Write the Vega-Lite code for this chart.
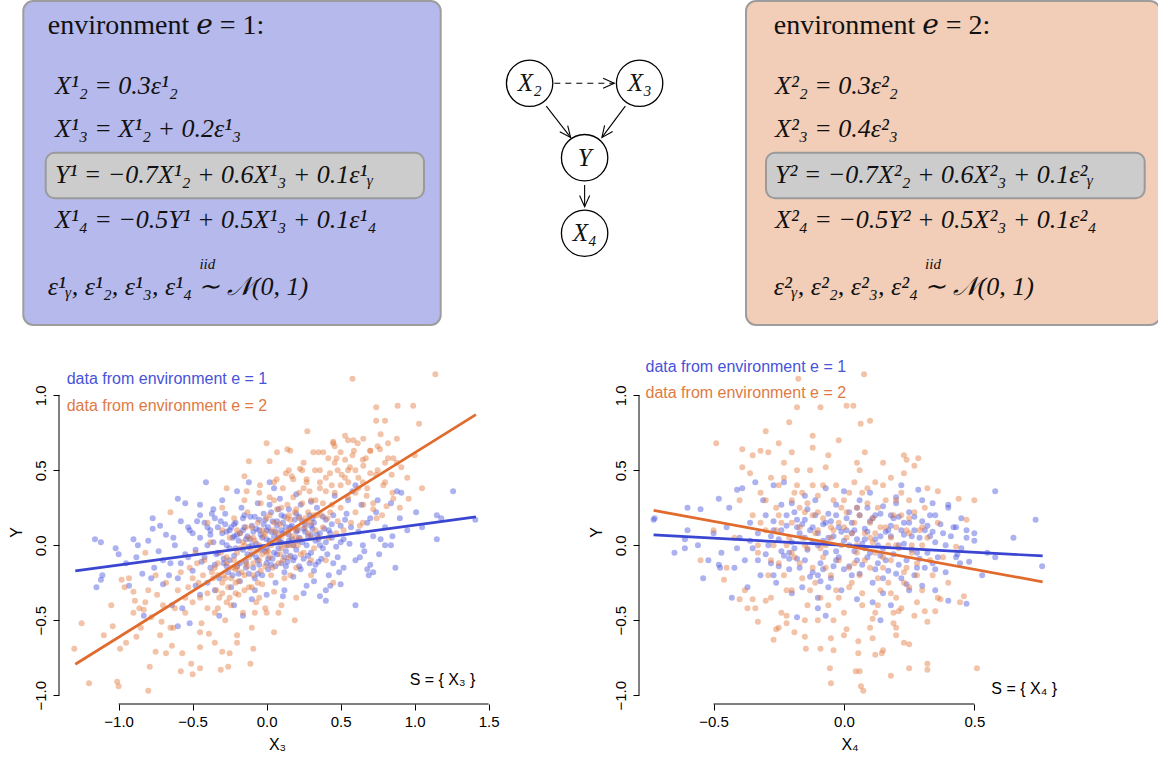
{
"$schema": "https://vega.github.io/schema/vega-lite/v6.json",
"padding": {"left": 8, "top": 0, "right": 0, "bottom": 0},
"background": "white",
"config": {
  "view": {"stroke": null},
  "font": "Liberation Sans",
  "axis": {"grid": false, "domain": false, "tickColor": "#000", "tickSize": 6, "tickWidth": 1, "labelColor": "#000", "labelFont": "Liberation Sans", "labelFontSize": 15, "titleFont": "Liberation Sans", "titleFontSize": 16, "titleFontWeight": "normal", "titleColor": "#000"}
},
"datasets": {
  "p1b": [
{"x":-1.16,"y":0.04},{"x":-1.12,"y":0.02},{"x":-1.15,"y":-0.28},{"x":-1.12,"y":-0.23},{"x":-1.11,"y":-0.2},{"x":-1.02,"y":-0.02},{"x":-0.9,"y":0.04},{"x":-0.87,"y":0.0},{"x":-0.93,"y":-0.27},{"x":-0.83,"y":-0.47},{"x":-0.77,"y":0.18},{"x":-0.77,"y":0.11},{"x":-0.72,"y":0.13},{"x":-0.6,"y":0.31},{"x":-0.55,"y":0.28},{"x":-0.41,"y":0.42},{"x":-0.45,"y":0.27},{"x":-0.36,"y":0.24},{"x":-0.12,"y":0.42},{"x":0.02,"y":0.42},{"x":1.26,"y":0.36},{"x":1.15,"y":0.2},{"x":1.18,"y":0.18},{"x":1.41,"y":0.17},{"x":1.15,"y":0.04},{"x":1.01,"y":0.22},{"x":0.87,"y":-0.15},{"x":0.88,"y":0.36},{"x":0.91,"y":0.35},{"x":0.84,"y":0.28},{"x":0.77,"y":0.04},{"x":0.8,"y":0.0},{"x":0.84,"y":0.0},{"x":0.72,"y":-0.18},{"x":0.69,"y":-0.2},{"x":0.68,"y":-0.16},{"x":0.6,"y":-0.4},{"x":0.43,"y":-0.27},{"x":0.4,"y":-0.37},{"x":0.36,"y":-0.34},{"x":0.11,"y":-0.34},{"x":-0.16,"y":-0.47},{"x":-0.22,"y":-0.4},{"x":-0.32,"y":-0.47},{"x":-0.52,"y":-0.52},{"x":-0.6,"y":-0.54},{"x":-0.57,"y":-0.42},{"x":-0.64,"y":-0.4},{"x":-0.45,"y":-0.33},
{"x":-0.45,"y":0.05},{"x":-0.42,"y":-0.08},{"x":-0.4,"y":0.12},{"x":-0.38,"y":-0.15},{"x":-0.36,"y":0.02},{"x":-0.35,"y":0.18},{"x":-0.33,"y":-0.05},{"x":-0.32,"y":-0.22},{"x":-0.3,"y":0.08},{"x":-0.29,"y":-0.12},{"x":-0.28,"y":0.21},{"x":-0.27,"y":0.0},{"x":-0.26,"y":-0.18},{"x":-0.25,"y":0.1},{"x":-0.24,"y":-0.28},{"x":-0.23,"y":0.05},{"x":-0.22,"y":-0.07},{"x":-0.21,"y":0.15},{"x":-0.2,"y":-0.14},{"x":-0.19,"y":0.03},{"x":-0.18,"y":-0.24},{"x":-0.17,"y":0.25},{"x":-0.16,"y":-0.03},{"x":-0.15,"y":0.12},{"x":-0.14,"y":-0.11},{"x":-0.13,"y":0.06},{"x":-0.12,"y":-0.19},{"x":-0.11,"y":0.19},{"x":-0.1,"y":-0.06},{"x":-0.09,"y":0.09},{"x":-0.08,"y":-0.3},{"x":-0.07,"y":0.01},{"x":-0.06,"y":0.28},{"x":-0.05,"y":-0.13},{"x":-0.04,"y":0.07},{"x":-0.03,"y":-0.2},{"x":-0.02,"y":0.14},{"x":-0.01,"y":-0.04},{"x":0.0,"y":0.1},{"x":0.01,"y":-0.16},{"x":0.02,"y":0.03},{"x":0.03,"y":0.22},{"x":0.04,"y":-0.09},{"x":0.05,"y":0.06},{"x":0.06,"y":-0.25},{"x":0.07,"y":0.16},{"x":0.08,"y":-0.02},{"x":0.09,"y":0.31},{"x":0.1,"y":-0.12},{"x":0.11,"y":0.08},{"x":0.12,"y":-0.18},{"x":0.13,"y":0.12},{"x":0.14,"y":0.0},{"x":0.15,"y":0.24},{"x":0.16,"y":-0.07},{"x":0.17,"y":0.04},{"x":0.18,"y":-0.21},{"x":0.19,"y":0.17},{"x":0.2,"y":-0.03},{"x":0.21,"y":0.1},{"x":0.22,"y":-0.14},{"x":0.23,"y":0.27},{"x":0.24,"y":0.02},{"x":0.25,"y":-0.09},{"x":0.26,"y":0.14},{"x":0.27,"y":-0.27},{"x":0.28,"y":0.06},{"x":0.29,"y":0.2},{"x":0.3,"y":-0.05},{"x":0.31,"y":0.11},{"x":0.32,"y":-0.17},{"x":0.33,"y":0.03},{"x":0.34,"y":0.25},{"x":0.35,"y":-0.11},{"x":0.36,"y":0.08},{"x":0.38,"y":-0.02},{"x":0.4,"y":0.17},{"x":0.42,"y":-0.2},{"x":0.44,"y":0.05},{"x":0.46,"y":0.33},{"x":0.48,"y":-0.08},{"x":0.5,"y":0.13},{"x":0.52,"y":-0.15},{"x":0.54,"y":0.21},{"x":0.56,"y":0.01},{"x":0.58,"y":0.36},{"x":0.6,"y":-0.1},{"x":0.62,"y":0.09},{"x":0.64,"y":0.27},{"x":0.66,"y":-0.04},{"x":0.68,"y":0.15},{"x":0.7,"y":-0.13},{"x":0.72,"y":0.06},{"x":0.74,"y":0.22},{"x":0.76,"y":-0.06},
{"x":-0.5,"y":-0.17},{"x":-0.52,"y":0.1},{"x":-0.55,"y":-0.06},{"x":-0.58,"y":0.16},{"x":-0.6,"y":-0.22},{"x":-0.62,"y":0.0},{"x":-0.65,"y":-0.12},{"x":-0.68,"y":0.07},{"x":-0.7,"y":-0.26},{"x":-0.73,"y":-0.04},{"x":-0.76,"y":-0.15},{"x":-0.8,"y":0.03},{"x":-0.84,"y":-0.19},{"x":-0.88,"y":-0.08},{"x":-0.95,"y":-0.12},{"x":-1.0,"y":-0.06},
{"x":-0.35,"y":-0.3},{"x":-0.3,"y":0.3},{"x":-0.2,"y":0.36},{"x":-0.1,"y":-0.36},{"x":0.0,"y":-0.33},{"x":0.05,"y":0.38},{"x":0.12,"y":-0.3},{"x":0.2,"y":0.34},{"x":0.25,"y":-0.32},{"x":0.3,"y":0.29},{"x":0.4,"y":-0.3},{"x":0.45,"y":0.2},{"x":0.5,"y":-0.26},{"x":0.55,"y":0.3},{"x":0.6,"y":0.4},{"x":-0.15,"y":0.2},{"x":-0.05,"y":0.17},{"x":0.05,"y":-0.05},{"x":0.15,"y":0.07},{"x":0.1,"y":0.2},{"x":-0.25,"y":-0.02},{"x":-0.1,"y":0.0},{"x":0.0,"y":-0.02},{"x":0.1,"y":0.02},{"x":0.2,"y":0.09},{"x":0.3,"y":0.13},{"x":0.4,"y":0.02},{"x":-0.4,"y":-0.25},{"x":-0.45,"y":0.2},{"x":0.65,"y":0.0},{"x":0.8,"y":0.12},{"x":0.85,"y":0.06},{"x":0.9,"y":0.18},{"x":0.95,"y":0.1},{"x":1.05,"y":0.12},{"x":0.75,"y":0.3},{"x":-0.18,"y":0.08},{"x":-0.08,"y":-0.22},{"x":0.02,"y":0.27},{"x":0.12,"y":-0.08},{"x":0.22,"y":0.19},{"x":0.32,"y":-0.24},{"x":0.42,"y":0.1},{"x":0.52,"y":0.04},{"x":-0.28,"y":0.14},{"x":-0.38,"y":0.07},{"x":-0.48,"y":-0.03},
{"x":-0.78,"y":-0.22},{"x":-0.7,"y":-0.1},{"x":-0.66,"y":-0.2},{"x":-0.63,"y":0.05},{"x":-0.58,"y":-0.12},{"x":-0.53,"y":0.12},{"x":-0.5,"y":0.08},{"x":-0.48,"y":-0.27},
{"x":-0.38,"y":0.1},{"x":-0.34,"y":-0.06},{"x":-0.31,"y":0.16},{"x":-0.27,"y":-0.14},{"x":-0.24,"y":0.12},{"x":-0.21,"y":-0.02},{"x":-0.19,"y":-0.19},{"x":-0.16,"y":0.1},{"x":-0.13,"y":-0.06},{"x":-0.11,"y":0.04},{"x":-0.08,"y":0.19},{"x":-0.06,"y":-0.1},{"x":-0.03,"y":0.05},{"x":-0.01,"y":0.17},{"x":0.01,"y":-0.09},{"x":0.03,"y":0.09},{"x":0.06,"y":-0.14},{"x":0.08,"y":0.05},{"x":0.11,"y":0.15},{"x":0.13,"y":-0.04},{"x":0.16,"y":0.12},{"x":0.18,"y":-0.1},{"x":0.21,"y":0.03},{"x":0.23,"y":-0.16},{"x":0.26,"y":0.09},{"x":0.28,"y":-0.07},{"x":0.31,"y":0.18},{"x":0.33,"y":-0.13},{"x":0.36,"y":0.0},{"x":0.39,"y":0.11},{"x":0.41,"y":-0.06},{"x":0.44,"y":0.14},{"x":0.47,"y":-0.01},{"x":0.49,"y":-0.18},{"x":-0.29,"y":-0.09},{"x":-0.22,"y":0.06},{"x":-0.14,"y":-0.15},{"x":-0.07,"y":0.11},{"x":0.0,"y":-0.12},{"x":0.07,"y":0.13},{"x":0.14,"y":-0.11},{"x":0.24,"y":0.16},{"x":0.34,"y":0.07},{"x":-0.44,"y":-0.11},{"x":-0.37,"y":0.21},{"x":0.57,"y":0.12},{"x":0.63,"y":-0.08},{"x":0.7,"y":0.18},{"x":-0.53,"y":-0.08},{"x":-0.47,"y":0.16},
{"x":-0.3,"y":0.02},{"x":-0.27,"y":0.09},{"x":-0.25,"y":-0.1},{"x":-0.22,"y":0.14},{"x":-0.2,"y":0.07},{"x":-0.18,"y":-0.12},{"x":-0.16,"y":0.18},{"x":-0.14,"y":0.04},{"x":-0.12,"y":-0.01},{"x":-0.1,"y":0.13},{"x":-0.09,"y":-0.15},{"x":-0.07,"y":-0.08},{"x":-0.05,"y":0.1},{"x":-0.04,"y":-0.03},{"x":-0.02,"y":0.21},{"x":0.0,"y":0.04},{"x":0.01,"y":0.12},{"x":0.03,"y":-0.13},{"x":0.04,"y":0.16},{"x":0.06,"y":0.09},{"x":0.07,"y":-0.06},{"x":0.09,"y":0.02},{"x":0.1,"y":0.1},{"x":0.12,"y":0.19},{"x":0.13,"y":-0.14},{"x":0.15,"y":0.03},{"x":0.17,"y":0.13},{"x":0.19,"y":-0.08},{"x":0.2,"y":0.21},{"x":0.22,"y":0.05},{"x":0.25,"y":0.11},{"x":0.27,"y":0.0},{"x":0.29,"y":-0.12},{"x":0.3,"y":0.07},{"x":0.32,"y":0.15},{"x":0.35,"y":0.04},{"x":0.37,"y":-0.09},{"x":0.38,"y":0.19},{"x":0.43,"y":0.08},{"x":0.45,"y":-0.12},{"x":-0.33,"y":0.12},{"x":-0.35,"y":-0.13},{"x":-0.4,"y":0.0},{"x":-0.42,"y":0.15},{"x":0.5,"y":0.02},{"x":0.53,"y":0.17},{"x":-0.23,"y":-0.2},{"x":-0.06,"y":-0.19},{"x":0.08,"y":0.24},{"x":0.18,"y":0.0}
  ],
  "p1o": [
{"x":0.58,"y":1.11},{"x":1.14,"y":1.14},{"x":0.74,"y":0.92},{"x":0.885,"y":0.93},{"x":0.99,"y":0.93},{"x":1.03,"y":0.81},{"x":0.74,"y":0.83},{"x":0.8,"y":0.83},{"x":0.275,"y":0.76},{"x":0.53,"y":0.73},{"x":0.77,"y":0.74},{"x":0.88,"y":0.71},{"x":0.96,"y":0.31},{"x":0.91,"y":0.52},{"x":0.0,"y":0.68},{"x":0.07,"y":0.62},{"x":0.14,"y":0.64},{"x":0.16,"y":0.63},{"x":-0.12,"y":0.56},{"x":0.02,"y":0.56},{"x":-0.15,"y":0.46},{"x":-0.27,"y":0.38},{"x":-0.65,"y":0.22},{"x":-0.82,"y":-0.05},{"x":-0.98,"y":-0.23},{"x":-0.9,"y":-0.31},{"x":-1.3,"y":-0.69},{"x":-1.25,"y":-0.52},{"x":-1.2,"y":-0.92},{"x":-1.01,"y":-0.91},{"x":-1.0,"y":-0.94},{"x":-0.8,"y":-0.97},{"x":-1.04,"y":-0.54},{"x":-0.99,"y":-0.69},{"x":-0.88,"y":-0.61},{"x":-0.79,"y":-0.81},{"x":-0.75,"y":-0.71},{"x":-0.58,"y":-0.84},{"x":-0.5,"y":-0.86},{"x":-0.45,"y":-0.82},{"x":-0.31,"y":-0.83},{"x":-0.26,"y":-0.81},{"x":-0.11,"y":-0.79},{"x":-0.09,"y":-0.69},{"x":-0.3,"y":-0.71},{"x":-0.2,"y":-0.65},{"x":0.19,"y":-0.5},{"x":0.08,"y":-0.45},{"x":-0.01,"y":-0.42},{"x":-0.45,"y":-0.58},{"x":-0.39,"y":-0.59},{"x":-0.68,"y":-0.72},{"x":-0.64,"y":-0.67},{"x":-0.57,"y":-0.72},{"x":-0.51,"y":-0.79},{"x":-0.71,"y":-0.51},{"x":-0.63,"y":-0.55},{"x":-0.83,"y":-0.43},{"x":-0.86,"y":-0.42},{"x":-0.96,"y":-0.28},{"x":-0.93,"y":-0.22},{"x":-0.89,"y":-0.37},{"x":-0.82,"y":-0.38},{"x":-0.74,"y":-0.33},
{"x":0.315,"y":0.62},{"x":0.383,"y":0.62},{"x":0.45,"y":0.69},{"x":0.586,"y":0.7},{"x":0.615,"y":0.68},{"x":0.653,"y":0.71},{"x":0.53,"y":0.57},{"x":0.59,"y":0.63},{"x":0.67,"y":0.58},{"x":0.7,"y":0.63},{"x":0.766,"y":0.64},{"x":0.82,"y":0.58},{"x":0.856,"y":0.58},{"x":0.563,"y":0.52},{"x":0.653,"y":0.53},{"x":0.739,"y":0.47},{"x":0.788,"y":0.4},{"x":0.845,"y":0.47},{"x":0.46,"y":0.66},{"x":0.417,"y":0.58},{"x":0.473,"y":0.58},{"x":0.327,"y":0.5},{"x":0.428,"y":0.48},{"x":0.507,"y":0.47},{"x":0.552,"y":0.42},{"x":0.619,"y":0.38},{"x":0.676,"y":0.33},{"x":0.72,"y":0.24},{"x":0.81,"y":0.26},{"x":0.856,"y":0.31},{"x":0.653,"y":0.27},{"x":0.225,"y":0.51},{"x":0.18,"y":0.44},{"x":0.27,"y":0.44},{"x":0.13,"y":0.48},{"x":0.068,"y":0.44},{"x":-0.045,"y":0.4},{"x":-0.135,"y":0.36},{"x":0.36,"y":0.38},{"x":0.743,"y":0.18},{"x":0.63,"y":0.13},
{"x":-0.6,"y":-0.3},{"x":-0.55,"y":-0.45},{"x":-0.52,"y":-0.15},{"x":-0.5,"y":-0.38},{"x":-0.48,"y":-0.05},{"x":-0.46,"y":-0.25},{"x":-0.44,"y":-0.52},{"x":-0.42,"y":-0.1},{"x":-0.4,"y":-0.32},{"x":-0.38,"y":0.02},{"x":-0.36,"y":-0.22},{"x":-0.35,"y":-0.45},{"x":-0.33,"y":-0.12},{"x":-0.32,"y":-0.35},{"x":-0.3,"y":0.1},{"x":-0.29,"y":-0.2},{"x":-0.28,"y":-0.5},{"x":-0.27,"y":-0.08},{"x":-0.26,"y":-0.28},{"x":-0.25,"y":0.05},{"x":-0.24,"y":-0.4},{"x":-0.23,"y":-0.15},{"x":-0.22,"y":0.18},{"x":-0.21,"y":-0.25},{"x":-0.2,"y":-0.05},{"x":-0.19,"y":-0.33},{"x":-0.18,"y":0.08},{"x":-0.17,"y":-0.18},{"x":-0.16,"y":-0.45},{"x":-0.15,"y":0.0},{"x":-0.14,"y":-0.12},{"x":-0.13,"y":0.22},{"x":-0.12,"y":-0.28},{"x":-0.11,"y":-0.02},{"x":-0.1,"y":0.12},{"x":-0.09,"y":-0.2},{"x":-0.08,"y":0.03},{"x":-0.07,"y":-0.38},{"x":-0.06,"y":0.15},{"x":-0.05,"y":-0.1},{"x":-0.04,"y":0.28},{"x":-0.03,"y":-0.26},{"x":-0.02,"y":0.06},{"x":-0.01,"y":-0.14},{"x":0.0,"y":0.18},{"x":0.01,"y":-0.04},{"x":0.02,"y":0.32},{"x":0.03,"y":-0.2},{"x":0.04,"y":0.1},{"x":0.05,"y":-0.31},{"x":0.06,"y":0.02},{"x":0.07,"y":0.24},{"x":0.08,"y":-0.12},{"x":0.09,"y":0.14},{"x":0.1,"y":-0.02},{"x":0.11,"y":0.38},{"x":0.12,"y":-0.22},{"x":0.13,"y":0.08},{"x":0.14,"y":0.27},{"x":0.15,"y":-0.08},{"x":0.16,"y":0.17},{"x":0.17,"y":0.46},{"x":0.18,"y":0.0},{"x":0.19,"y":0.22},{"x":0.2,"y":-0.15},{"x":0.21,"y":0.12},{"x":0.22,"y":0.35},{"x":0.23,"y":0.04},{"x":0.24,"y":0.28},{"x":0.25,"y":-0.05},{"x":0.26,"y":0.18},{"x":0.27,"y":0.42},{"x":0.28,"y":0.08},{"x":0.3,"y":0.3},{"x":0.32,"y":-0.02},{"x":0.34,"y":0.2},{"x":0.36,"y":0.5},{"x":0.38,"y":0.12},{"x":0.4,"y":0.36},{"x":0.42,"y":0.05},{"x":0.44,"y":0.27},{"x":0.46,"y":0.55},{"x":0.48,"y":0.16},{"x":0.5,"y":0.4},{"x":0.52,"y":0.1},{"x":0.55,"y":0.32},{"x":0.58,"y":0.6},{"x":0.6,"y":0.22},{"x":0.62,"y":0.45},{"x":0.65,"y":0.15},{"x":0.68,"y":0.38},{"x":0.7,"y":0.63},{"x":0.72,"y":0.28},{"x":0.75,"y":0.5},{"x":0.78,"y":0.2},{"x":0.8,"y":0.42},{"x":0.82,"y":0.68},{"x":0.85,"y":0.35},{"x":0.88,"y":0.55},{"x":0.9,"y":0.25},{"x":0.95,"y":0.45},{"x":1.0,"y":0.6},{"x":1.05,"y":0.38},
{"x":-0.65,"y":-0.55},{"x":-0.68,"y":-0.25},{"x":-0.7,"y":-0.4},{"x":-0.72,"y":-0.6},{"x":-0.75,"y":-0.2},{"x":-0.78,"y":-0.48},{"x":-0.8,"y":-0.3},{"x":-0.85,"y":-0.55},{"x":-0.9,"y":-0.45},{"x":-0.95,"y":-0.65},{"x":-1.05,"y":-0.4},{"x":-1.1,"y":-0.6},
{"x":0.35,"y":0.62},{"x":0.45,"y":0.68},{"x":0.55,"y":0.7},{"x":0.5,"y":0.62},{"x":0.65,"y":0.57},{"x":0.75,"y":0.66},{"x":0.25,"y":0.55},{"x":0.15,"y":0.5},{"x":0.05,"y":0.42},{"x":-0.05,"y":0.35},{"x":-0.15,"y":0.3},{"x":-0.3,"y":0.25},{"x":-0.4,"y":0.15},{"x":0.3,"y":-0.2},{"x":0.4,"y":-0.1},{"x":0.45,"y":-0.25},{"x":0.2,"y":-0.35},{"x":0.1,"y":-0.4},{"x":0.0,"y":-0.45},{"x":-0.1,"y":-0.55},{"x":-0.2,"y":-0.6},{"x":-0.35,"y":-0.65},{"x":-0.45,"y":-0.68},{"x":-0.25,"y":-0.72},{"x":0.05,"y":-0.58},{"x":0.15,"y":0.0},{"x":-0.05,"y":0.0},{"x":0.1,"y":0.06},{"x":-0.12,"y":-0.08},{"x":0.2,"y":0.1},{"x":-0.2,"y":-0.15},{"x":0.3,"y":0.15},{"x":-0.3,"y":-0.25},
{"x":-0.37,"y":-0.18},{"x":-0.34,"y":-0.3},{"x":-0.31,"y":-0.05},{"x":-0.28,"y":-0.22},{"x":-0.25,"y":-0.35},{"x":-0.22,"y":-0.1},{"x":-0.19,"y":-0.24},{"x":-0.16,"y":0.02},{"x":-0.13,"y":-0.14},{"x":-0.1,"y":-0.28},{"x":-0.07,"y":-0.04},{"x":-0.04,"y":-0.17},{"x":-0.01,"y":0.08},{"x":0.02,"y":-0.08},{"x":0.05,"y":0.15},{"x":0.08,"y":0.02},{"x":0.11,"y":-0.1},{"x":0.14,"y":0.18},{"x":0.17,"y":0.06},{"x":0.2,"y":0.24},{"x":0.23,"y":-0.06},{"x":0.26,"y":0.12},{"x":0.29,"y":0.36},{"x":0.32,"y":0.2},{"x":0.35,"y":0.05},{"x":0.38,"y":0.28},{"x":0.41,"y":0.18},{"x":0.44,"y":0.4},{"x":0.47,"y":0.08},{"x":0.5,"y":0.25},{"x":-0.33,"y":-0.2},{"x":-0.27,"y":-0.38},{"x":-0.21,"y":-0.16},{"x":-0.15,"y":-0.3},{"x":-0.09,"y":0.05},{"x":-0.03,"y":-0.06},{"x":0.03,"y":0.0},{"x":0.09,"y":-0.06},{"x":0.15,"y":0.1},{"x":0.21,"y":0.0},{"x":0.27,"y":0.16},{"x":0.33,"y":0.1},{"x":-0.43,"y":-0.2},{"x":-0.47,"y":-0.12},{"x":-0.53,"y":-0.28},{"x":-0.58,"y":-0.18},{"x":0.53,"y":0.45},{"x":0.57,"y":0.15},{"x":0.6,"y":0.35},
{"x":-0.35,"y":-0.15},{"x":-0.3,"y":-0.32},{"x":-0.27,"y":-0.12},{"x":-0.24,"y":-0.22},{"x":-0.21,"y":-0.32},{"x":-0.18,"y":-0.02},{"x":-0.15,"y":-0.2},{"x":-0.12,"y":0.05},{"x":-0.09,"y":-0.12},{"x":-0.06,"y":-0.25},{"x":-0.03,"y":0.1},{"x":0.0,"y":-0.05},{"x":0.02,"y":0.2},{"x":0.04,"y":-0.15},{"x":0.07,"y":0.08},{"x":0.1,"y":0.25},{"x":0.12,"y":0.0},{"x":0.15,"y":0.2},{"x":0.18,"y":0.32},{"x":0.2,"y":0.05},{"x":0.22,"y":0.18},{"x":0.25,"y":0.38},{"x":0.28,"y":0.22},{"x":0.3,"y":0.05},{"x":0.33,"y":0.3},{"x":0.37,"y":0.2},{"x":0.4,"y":0.45},{"x":0.43,"y":0.22},{"x":0.46,"y":0.35},{"x":0.48,"y":0.5},{"x":-0.4,"y":-0.42},{"x":-0.45,"y":-0.35},{"x":-0.5,"y":-0.22},{"x":-0.55,"y":-0.35},{"x":0.55,"y":0.5},{"x":0.6,"y":0.5},{"x":0.65,"y":0.42},{"x":0.7,"y":0.48},{"x":-0.08,"y":-0.45},{"x":0.05,"y":0.3},{"x":-0.2,"y":0.1},{"x":0.3,"y":-0.1},{"x":-0.14,"y":0.12},{"x":0.16,"y":-0.2},{"x":-0.33,"y":-0.42},{"x":0.36,"y":0.42},{"x":-0.62,"y":-0.42},{"x":0.8,"y":0.55},{"x":-0.05,"y":-0.35},{"x":0.24,"y":0.5}
  ],
  "p2b": [
{"x":-0.73,"y":0.17},{"x":-0.726,"y":0.18},{"x":-0.6,"y":0.25},{"x":-0.55,"y":0.24},{"x":-0.61,"y":0.04},{"x":-0.61,"y":-0.02},{"x":-0.54,"y":-0.22},{"x":-0.48,"y":-0.13},{"x":-0.475,"y":-0.15},{"x":-0.48,"y":0.31},{"x":-0.43,"y":-0.35},{"x":-0.41,"y":0.37},{"x":-0.39,"y":0.38},{"x":-0.34,"y":0.42},{"x":-0.27,"y":0.4},{"x":-0.23,"y":0.42},{"x":-0.18,"y":-0.48},{"x":-0.1,"y":-0.42},{"x":-0.07,"y":-0.47},{"x":-0.07,"y":0.38},{"x":0.11,"y":-0.38},{"x":0.14,"y":-0.5},{"x":0.18,"y":-0.4},{"x":0.22,"y":0.4},{"x":0.285,"y":0.37},{"x":0.34,"y":0.28},{"x":0.35,"y":0.2},{"x":0.4,"y":0.27},{"x":0.43,"y":0.12},{"x":0.435,"y":-0.06},{"x":0.445,"y":-0.12},{"x":0.58,"y":0.36},{"x":0.65,"y":0.05},{"x":0.58,"y":-0.08},{"x":0.735,"y":0.17},{"x":0.76,"y":-0.14},{"x":0.53,"y":-0.2},{"x":0.47,"y":-0.39},{"x":0.4,"y":-0.37},{"x":0.5,"y":0.03},{"x":0.47,"y":0.05},
{"x":-0.4,"y":0.05},{"x":-0.38,"y":-0.1},{"x":-0.36,"y":0.15},{"x":-0.35,"y":-0.02},{"x":-0.33,"y":0.08},{"x":-0.32,"y":-0.2},{"x":-0.3,"y":0.2},{"x":-0.29,"y":0.0},{"x":-0.28,"y":-0.12},{"x":-0.27,"y":0.1},{"x":-0.26,"y":-0.25},{"x":-0.25,"y":0.04},{"x":-0.24,"y":0.27},{"x":-0.23,"y":-0.07},{"x":-0.22,"y":0.13},{"x":-0.21,"y":-0.16},{"x":-0.2,"y":0.02},{"x":-0.19,"y":0.22},{"x":-0.18,"y":-0.09},{"x":-0.17,"y":0.08},{"x":-0.16,"y":-0.28},{"x":-0.15,"y":0.17},{"x":-0.14,"y":-0.03},{"x":-0.13,"y":0.1},{"x":-0.12,"y":-0.18},{"x":-0.11,"y":0.3},{"x":-0.1,"y":0.0},{"x":-0.09,"y":-0.12},{"x":-0.08,"y":0.14},{"x":-0.07,"y":-0.05},{"x":-0.06,"y":0.21},{"x":-0.05,"y":-0.22},{"x":-0.04,"y":0.06},{"x":-0.03,"y":-0.1},{"x":-0.02,"y":0.12},{"x":-0.01,"y":-0.3},{"x":0.0,"y":0.03},{"x":0.01,"y":0.18},{"x":0.02,"y":-0.14},{"x":0.03,"y":0.08},{"x":0.04,"y":-0.04},{"x":0.05,"y":0.25},{"x":0.06,"y":-0.19},{"x":0.07,"y":0.01},{"x":0.08,"y":0.11},{"x":0.09,"y":-0.08},{"x":0.1,"y":0.16},{"x":0.11,"y":-0.25},{"x":0.12,"y":0.04},{"x":0.13,"y":-0.12},{"x":0.14,"y":0.21},{"x":0.15,"y":-0.02},{"x":0.16,"y":0.09},{"x":0.17,"y":-0.17},{"x":0.18,"y":0.13},{"x":0.19,"y":-0.06},{"x":0.2,"y":0.28},{"x":0.21,"y":0.0},{"x":0.22,"y":-0.22},{"x":0.23,"y":0.07},{"x":0.24,"y":-0.1},{"x":0.25,"y":0.15},{"x":0.26,"y":-0.03},{"x":0.27,"y":0.19},{"x":0.28,"y":-0.15},{"x":0.29,"y":0.05},{"x":0.3,"y":-0.27},{"x":0.31,"y":0.1},{"x":0.32,"y":-0.05},{"x":0.33,"y":0.2},{"x":0.34,"y":-0.12},{"x":0.35,"y":0.02},{"x":0.37,"y":0.14},{"x":0.39,"y":-0.18},{"x":0.41,"y":0.06},{"x":0.43,"y":-0.08},{"x":0.45,"y":0.18},{"x":0.48,"y":-0.11},{"x":0.5,"y":0.08},{"x":0.55,"y":-0.05},
{"x":-0.42,"y":-0.15},{"x":-0.45,"y":0.12},{"x":-0.47,"y":-0.05},{"x":-0.5,"y":0.08},{"x":-0.52,"y":-0.1},{"x":-0.56,"y":0.0},{"x":-0.6,"y":0.1},{"x":-0.65,"y":-0.05},{"x":-0.44,"y":0.25},{"x":-0.37,"y":-0.28},{"x":-0.31,"y":0.3},{"x":-0.2,"y":-0.32},{"x":-0.15,"y":0.33},{"x":-0.1,"y":-0.35},{"x":0.0,"y":0.36},{"x":0.05,"y":-0.36},{"x":0.1,"y":0.35},{"x":0.15,"y":-0.32},{"x":0.2,"y":0.32},{"x":0.25,"y":-0.3},{"x":0.3,"y":0.3},{"x":0.35,"y":-0.3},{"x":0.4,"y":0.25},{"x":-0.06,"y":0.05},{"x":0.04,"y":0.1},{"x":-0.12,"y":0.02},{"x":0.08,"y":-0.02},{"x":-0.18,"y":0.12},{"x":0.14,"y":0.06},{"x":-0.24,"y":-0.04},{"x":0.22,"y":0.1},{"x":-0.02,"y":-0.08},{"x":0.02,"y":0.0},{"x":-0.08,"y":-0.16},{"x":0.12,"y":-0.16},{"x":0.18,"y":0.2},{"x":-0.14,"y":0.24},{"x":0.06,"y":0.3},{"x":-0.03,"y":0.2},
{"x":-0.28,"y":0.06},{"x":-0.25,"y":-0.14},{"x":-0.22,"y":0.2},{"x":-0.19,"y":-0.02},{"x":-0.16,"y":0.14},{"x":-0.13,"y":-0.21},{"x":-0.1,"y":0.08},{"x":-0.07,"y":0.15},{"x":-0.04,"y":-0.14},{"x":-0.01,"y":0.09},{"x":0.02,"y":0.22},{"x":0.05,"y":-0.1},{"x":0.08,"y":0.04},{"x":0.11,"y":0.18},{"x":0.14,"y":-0.07},{"x":0.17,"y":0.1},{"x":0.2,"y":-0.19},{"x":0.23,"y":0.15},{"x":0.26,"y":0.06},{"x":0.29,"y":-0.09},{"x":0.32,"y":0.13},{"x":0.35,"y":-0.16},{"x":-0.33,"y":-0.1},{"x":-0.27,"y":0.16},{"x":-0.21,"y":-0.09},{"x":-0.15,"y":0.05},{"x":-0.09,"y":-0.24},{"x":-0.03,"y":0.27},{"x":0.03,"y":-0.2},{"x":0.09,"y":0.25},{"x":0.15,"y":-0.22},{"x":0.21,"y":0.19},{"x":0.27,"y":-0.2},{"x":0.33,"y":0.06},{"x":0.39,"y":0.0},{"x":0.45,"y":-0.02},{"x":-0.36,"y":0.03},{"x":-0.41,"y":-0.02},{"x":0.42,"y":0.12},{"x":0.47,"y":0.1},
{"x":-0.24,"y":0.1},{"x":-0.21,"y":-0.05},{"x":-0.18,"y":0.17},{"x":-0.15,"y":-0.1},{"x":-0.12,"y":0.12},{"x":-0.1,"y":-0.2},{"x":-0.08,"y":0.03},{"x":-0.05,"y":0.16},{"x":-0.03,"y":-0.04},{"x":0.0,"y":-0.16},{"x":0.01,"y":0.1},{"x":0.03,"y":0.15},{"x":0.05,"y":0.04},{"x":0.07,"y":-0.13},{"x":0.09,"y":0.09},{"x":0.1,"y":-0.05},{"x":0.12,"y":0.2},{"x":0.13,"y":0.0},{"x":0.16,"y":-0.1},{"x":0.18,"y":0.06},{"x":0.19,"y":0.18},{"x":0.21,"y":-0.13},{"x":0.23,"y":0.01},{"x":0.25,"y":0.22},{"x":0.27,"y":0.1},{"x":0.28,"y":-0.05},{"x":0.3,"y":0.16},{"x":0.31,"y":-0.15},{"x":0.34,"y":0.09},{"x":0.36,"y":-0.08},{"x":-0.3,"y":-0.06},{"x":-0.27,"y":-0.2},{"x":-0.2,"y":0.28},{"x":-0.17,"y":-0.15},{"x":-0.11,"y":0.2},{"x":-0.06,"y":-0.28},{"x":0.06,"y":0.2},{"x":0.15,"y":0.26},{"x":0.24,"y":-0.26},{"x":0.38,"y":0.08}
  ],
  "p2o": [
{"x":0.077,"y":1.14},{"x":-0.175,"y":1.11},{"x":0.01,"y":0.93},{"x":0.036,"y":0.93},{"x":-0.09,"y":0.92},{"x":-0.18,"y":0.92},{"x":-0.21,"y":0.82},{"x":0.1,"y":0.83},{"x":0.064,"y":0.81},{"x":-0.3,"y":0.76},{"x":-0.49,"y":0.68},{"x":-0.39,"y":0.64},{"x":-0.35,"y":0.6},{"x":-0.39,"y":0.52},{"x":-0.32,"y":0.63},{"x":-0.29,"y":0.62},{"x":-0.12,"y":0.73},{"x":0.23,"y":0.6},{"x":0.24,"y":0.57},{"x":0.285,"y":0.58},{"x":0.27,"y":0.53},{"x":0.23,"y":0.48},{"x":0.32,"y":0.38},{"x":0.36,"y":0.36},{"x":0.44,"y":0.31},{"x":0.5,"y":0.3},{"x":0.47,"y":0.17},{"x":0.43,"y":-0.01},{"x":0.445,"y":-0.38},{"x":0.46,"y":-0.34},{"x":0.51,"y":-0.82},{"x":0.32,"y":-0.79},{"x":0.32,"y":-0.83},{"x":0.32,"y":-0.51},{"x":0.31,"y":-0.44},{"x":0.25,"y":-0.82},{"x":0.25,"y":-0.66},{"x":0.23,"y":-0.65},{"x":0.18,"y":-0.87},{"x":0.2,"y":-0.6},{"x":0.15,"y":-0.7},{"x":0.145,"y":-0.72},{"x":0.12,"y":-0.73},{"x":0.074,"y":-0.97},{"x":0.065,"y":-0.94},{"x":0.06,"y":-0.84},{"x":0.045,"y":-0.84},{"x":-0.054,"y":-0.82},{"x":-0.05,"y":-0.92},{"x":-0.04,"y":-0.7},{"x":-0.09,"y":-0.69},{"x":-0.146,"y":-0.69},{"x":-0.15,"y":-0.61},{"x":-0.27,"y":-0.63},{"x":-0.26,"y":-0.56},{"x":-0.33,"y":-0.51},{"x":-0.37,"y":-0.42},{"x":-0.4,"y":-0.36},{"x":-0.46,"y":-0.23},{"x":-0.35,"y":-0.36},{"x":-0.3,"y":-0.37},{"x":-0.22,"y":-0.47},{"x":-0.22,"y":-0.52},{"x":-0.19,"y":-0.58},{"x":0.01,"y":-0.56},{"x":0.055,"y":-0.64},{"x":0.055,"y":-0.72},{"x":0.11,"y":-0.49},{"x":0.19,"y":-0.52},{"x":0.21,"y":-0.44},{"x":0.27,"y":-0.47},{"x":0.35,"y":-0.44},{"x":0.37,"y":-0.36},
{"x":-0.35,"y":0.2},{"x":-0.33,"y":-0.05},{"x":-0.32,"y":0.35},{"x":-0.3,"y":0.1},{"x":-0.29,"y":-0.2},{"x":-0.28,"y":0.45},{"x":-0.27,"y":0.0},{"x":-0.26,"y":0.25},{"x":-0.25,"y":-0.12},{"x":-0.24,"y":0.15},{"x":-0.23,"y":0.55},{"x":-0.22,"y":-0.3},{"x":-0.21,"y":0.05},{"x":-0.2,"y":0.3},{"x":-0.19,"y":-0.08},{"x":-0.18,"y":0.4},{"x":-0.17,"y":0.12},{"x":-0.16,"y":-0.22},{"x":-0.15,"y":0.22},{"x":-0.14,"y":-0.02},{"x":-0.13,"y":0.5},{"x":-0.12,"y":-0.15},{"x":-0.11,"y":0.08},{"x":-0.1,"y":0.33},{"x":-0.09,"y":-0.35},{"x":-0.08,"y":0.18},{"x":-0.07,"y":0.0},{"x":-0.06,"y":0.6},{"x":-0.05,"y":-0.2},{"x":-0.04,"y":0.1},{"x":-0.03,"y":0.4},{"x":-0.02,"y":-0.1},{"x":-0.01,"y":0.25},{"x":0.0,"y":-0.45},{"x":0.01,"y":0.05},{"x":0.02,"y":0.35},{"x":0.03,"y":-0.25},{"x":0.04,"y":0.15},{"x":0.05,"y":-0.05},{"x":0.06,"y":0.5},{"x":0.07,"y":-0.32},{"x":0.08,"y":0.08},{"x":0.09,"y":0.28},{"x":0.1,"y":-0.15},{"x":0.11,"y":0.02},{"x":0.12,"y":0.42},{"x":0.13,"y":-0.4},{"x":0.14,"y":0.12},{"x":0.15,"y":-0.08},{"x":0.16,"y":0.3},{"x":0.17,"y":-0.25},{"x":0.18,"y":0.05},{"x":0.19,"y":0.2},{"x":0.2,"y":-0.35},{"x":0.21,"y":-0.02},{"x":0.22,"y":0.35},{"x":0.23,"y":-0.18},{"x":0.24,"y":0.1},{"x":0.25,"y":-0.28},{"x":0.26,"y":0.0},{"x":0.27,"y":0.22},{"x":0.28,"y":-0.12},{"x":0.3,"y":-0.3},{"x":0.32,"y":0.05},{"x":0.34,"y":-0.2},{"x":0.36,"y":0.15},{"x":0.38,"y":-0.08},{"x":0.4,"y":-0.25},
{"x":-0.38,"y":-0.3},{"x":-0.4,"y":0.3},{"x":-0.42,"y":0.05},{"x":-0.45,"y":-0.15},{"x":-0.5,"y":0.1},{"x":-0.55,"y":-0.1},{"x":-0.36,"y":0.48},{"x":-0.34,"y":-0.42},{"x":-0.12,"y":0.65},{"x":-0.02,"y":0.7},{"x":0.08,"y":0.62},{"x":0.15,"y":0.55},{"x":0.18,"y":0.45},{"x":-0.2,"y":0.62},{"x":-0.25,"y":0.68},{"x":0.0,"y":-0.6},{"x":0.1,"y":-0.55},{"x":-0.1,"y":-0.5},{"x":-0.05,"y":-0.62},{"x":0.05,"y":0.0},{"x":-0.05,"y":0.05},{"x":0.0,"y":0.12},{"x":0.1,"y":0.15},{"x":-0.1,"y":0.1},{"x":-0.15,"y":0.0},{"x":0.2,"y":0.0},{"x":-0.2,"y":-0.05},{"x":0.02,"y":-0.15},{"x":0.12,"y":-0.05},{"x":-0.08,"y":-0.08},{"x":0.06,"y":0.2},{"x":-0.16,"y":0.35},{"x":0.22,"y":-0.42},{"x":0.3,"y":0.12},{"x":-0.28,"y":-0.35},{"x":0.13,"y":0.25},{"x":-0.03,"y":-0.3},{"x":0.25,"y":0.3},{"x":-0.25,"y":0.4},
{"x":-0.26,"y":0.1},{"x":-0.23,"y":-0.2},{"x":-0.2,"y":0.15},{"x":-0.17,"y":-0.12},{"x":-0.14,"y":0.28},{"x":-0.11,"y":-0.25},{"x":-0.08,"y":0.4},{"x":-0.05,"y":0.12},{"x":-0.02,"y":-0.35},{"x":0.01,"y":0.22},{"x":0.04,"y":-0.12},{"x":0.07,"y":0.35},{"x":0.1,"y":0.05},{"x":0.13,"y":-0.22},{"x":0.16,"y":0.12},{"x":0.19,"y":-0.45},{"x":0.22,"y":0.2},{"x":0.25,"y":0.08},{"x":0.28,"y":-0.38},{"x":0.31,"y":0.25},{"x":-0.3,"y":0.3},{"x":-0.24,"y":-0.45},{"x":-0.18,"y":0.5},{"x":-0.12,"y":0.2},{"x":-0.06,"y":-0.4},{"x":0.0,"y":0.3},{"x":0.06,"y":-0.2},{"x":0.12,"y":0.08},{"x":0.18,"y":-0.1},{"x":0.24,"y":-0.15},{"x":0.3,"y":0.0},{"x":-0.33,"y":0.0},{"x":0.36,"y":-0.35},{"x":0.15,"y":0.4},{"x":-0.07,"y":0.52},{"x":0.05,"y":0.55},{"x":-0.15,"y":-0.5},{"x":0.2,"y":-0.55},{"x":-0.25,"y":-0.55},{"x":0.11,"y":-0.62},
{"x":-0.25,"y":0.2},{"x":-0.22,"y":0.0},{"x":-0.19,"y":0.35},{"x":-0.16,"y":0.05},{"x":-0.13,"y":-0.3},{"x":-0.1,"y":0.22},{"x":-0.07,"y":-0.15},{"x":-0.04,"y":0.3},{"x":-0.01,"y":0.0},{"x":0.02,"y":-0.28},{"x":0.05,"y":0.25},{"x":0.08,"y":-0.1},{"x":0.11,"y":0.18},{"x":0.14,"y":-0.3},{"x":0.17,"y":0.0},{"x":0.2,"y":0.12},{"x":0.23,"y":-0.25},{"x":0.26,"y":-0.05},{"x":0.29,"y":0.1},{"x":-0.28,"y":-0.1},{"x":-0.2,"y":-0.3},{"x":-0.12,"y":0.4},{"x":-0.04,"y":-0.5},{"x":0.04,"y":0.42},{"x":0.12,"y":-0.45},{"x":0.2,"y":0.3},{"x":0.28,"y":-0.2},{"x":-0.09,"y":-0.02},{"x":0.03,"y":0.08},{"x":0.09,"y":0.38},{"x":-0.17,"y":0.25},{"x":0.15,"y":-0.15},{"x":-0.23,"y":0.45},{"x":0.25,"y":0.18},{"x":-0.02,"y":0.15},{"x":0.07,"y":-0.4},{"x":-0.14,"y":-0.4},{"x":0.18,"y":-0.32},{"x":-0.32,"y":0.15},{"x":0.33,"y":-0.1}
  ]
},
"columns": 1,
"align": "none",
"spacing": 32,
"concat": [
  {
    "spacing": 0,
    "resolve": {"scale": {"x": "independent", "y": "independent"}},
    "hconcat": [
      {
        "width": 382, "height": 324,
        "view": {"stroke": null},
        "layer": [
          {
            "data": {"values": [{"k": "box"}]},
            "mark": {"type": "rect", "fill": "#b6b9ec", "stroke": "#9d9d9d", "strokeWidth": 2, "cornerRadius": 10},
            "encoding": {
              "x": {"datum": 0, "type": "quantitative", "scale": {"domain": [35.7, 417.7], "nice": false, "zero": false}, "axis": null},
              "x2": {"datum": 417.4},
              "y": {"datum": 0, "type": "quantitative", "scale": {"domain": [0, 324], "nice": false, "zero": false, "reverse": true}, "axis": null},
              "y2": {"datum": 324}
            }
          },
          {
            "data": {"values": [{"k": "highlight"}]},
            "mark": {"type": "rect", "fill": "#cccccc", "stroke": "#9a9a9a", "strokeWidth": 2, "cornerRadius": 9},
            "encoding": {
              "x": {"datum": 22.4, "type": "quantitative"},
              "x2": {"datum": 400.7},
              "y": {"datum": 151.7, "type": "quantitative"},
              "y2": {"datum": 197.3}
            }
          },
          {
            "data": {"values": [{"t": "environment 𝑒 = 1:"}]},
            "mark": {"type": "text", "align": "left", "baseline": "alphabetic", "font": "Liberation Serif, DejaVu Serif", "fontSize": 28, "color": "#111"},
            "encoding": {
              "x": {"datum": 24.4, "type": "quantitative"},
              "y": {"datum": 33, "type": "quantitative"},
              "text": {"field": "t"}
            }
          },
          {
            "data": {"values": [
              {"t": "X¹₂ = 0.3ε¹₂", "x": 31.7, "b": 93},
              {"t": "X¹₃ = X¹₂ + 0.2ε¹₃", "x": 31.7, "b": 136},
              {"t": "Y¹ = −0.7X¹₂ + 0.6X¹₃ + 0.1ε¹ᵧ", "x": 31.7, "b": 182},
              {"t": "X¹₄ = −0.5Y¹ + 0.5X¹₃ + 0.1ε¹₄", "x": 31.7, "b": 227},
              {"t": "ε¹ᵧ, ε¹₂, ε¹₃, ε¹₄", "x": 24.4, "b": 294},
              {"t": "∼ 𝒩(0, 1)", "x": 175, "b": 294}
            ]},
            "mark": {"type": "text", "align": "left", "baseline": "alphabetic", "font": "Liberation Serif", "fontStyle": "italic", "fontSize": 26, "color": "#111"},
            "encoding": {
              "x": {"field": "x", "type": "quantitative"},
              "y": {"field": "b", "type": "quantitative"},
              "text": {"field": "t"}
            }
          },
          {
            "data": {"values": [{"t": "iid"}]},
            "mark": {"type": "text", "align": "center", "baseline": "alphabetic", "font": "Liberation Serif", "fontStyle": "italic", "fontSize": 15, "color": "#111"},
            "encoding": {
              "x": {"datum": 184, "type": "quantitative"},
              "y": {"datum": 268, "type": "quantitative"},
              "text": {"field": "t"}
            }
          }
        ]
      },
      {
        "width": 303, "height": 324,
        "data": {"values": [
          {"n": "X₂", "x": -1, "y": 0},
          {"n": "X₃", "x": 1, "y": 0},
          {"n": "Y", "x": 0, "y": -1.353},
          {"n": "X₄", "x": 0, "y": -2.727}
        ]},
        "layer": [
          {
            "data": {"values": [
              {"x": -0.697, "y": -0.415, "x2": -0.255, "y2": -0.985},
              {"x": 0.74, "y": -0.415, "x2": 0.315, "y2": -0.985},
              {"x": 0, "y": -1.849, "x2": 0, "y2": -2.244}
            ]},
            "mark": {"type": "rule", "color": "#000", "strokeWidth": 1.1},
            "encoding": {
              "x": {"field": "x", "type": "quantitative", "scale": {"domain": [-2.593, 2.916], "nice": false, "zero": false}, "axis": null},
              "y": {"field": "y", "type": "quantitative", "scale": {"domain": [-4.395, 1.496], "nice": false, "zero": false}, "axis": null},
              "x2": {"field": "x2"},
              "y2": {"field": "y2"}
            }
          },
          {
            "data": {"values": [{"x": -0.551, "y": 0, "x2": 0.54, "y2": 0}]},
            "mark": {"type": "rule", "color": "#000", "strokeWidth": 1.1, "strokeDash": [6, 5]},
            "encoding": {
              "x": {"field": "x", "type": "quantitative"},
              "y": {"field": "y", "type": "quantitative"},
              "x2": {"field": "x2"},
              "y2": {"field": "y2"}
            }
          },
          {
            "data": {"values": [
              {"x": -0.697, "y": -0.415, "x2": -0.255, "y2": -0.985},
              {"x": 0.74, "y": -0.415, "x2": 0.315, "y2": -0.985},
              {"x": 0, "y": -1.849, "x2": 0, "y2": -2.244},
              {"x": -0.551, "y": 0, "x2": 0.54, "y2": 0}
            ]},
            "transform": [{"calculate": "-atan2(datum.y2 - datum.y, datum.x2 - datum.x) * 180 / PI", "as": "ang"}],
            "mark": {"type": "point", "shape": "M-1,-0.45L0,0L-1,0.45", "filled": false, "stroke": "#000", "strokeWidth": 1.1, "size": 500, "opacity": 1},
            "encoding": {
              "x": {"field": "x2", "type": "quantitative"},
              "y": {"field": "y2", "type": "quantitative"},
              "angle": {"field": "ang", "type": "quantitative", "scale": null}
            }
          },
          {
            "mark": {"type": "point", "shape": "circle", "filled": false, "stroke": "#000", "strokeWidth": 1.3, "size": 2150, "opacity": 1},
            "encoding": {
              "x": {"field": "x", "type": "quantitative"},
              "y": {"field": "y", "type": "quantitative"}
            }
          },
          {
            "mark": {"type": "text", "align": "center", "baseline": "middle", "font": "Liberation Serif", "fontStyle": "italic", "fontSize": 25, "color": "#111"},
            "encoding": {
              "x": {"field": "x", "type": "quantitative"},
              "y": {"field": "y", "type": "quantitative"},
              "text": {"field": "n"}
            }
          }
        ]
      },
      {
        "width": 414, "height": 324,
        "view": {"fill": "#f2cdb7", "stroke": "#9d9d9d", "strokeWidth": 2, "cornerRadius": 10},
        "layer": [
          {
            "data": {"values": [{"k": "highlight"}]},
            "mark": {"type": "rect", "fill": "#cccccc", "stroke": "#9a9a9a", "strokeWidth": 2, "cornerRadius": 9},
            "encoding": {
              "x": {"datum": 20, "type": "quantitative", "scale": {"domain": [0, 414], "nice": false, "zero": false}, "axis": null},
              "x2": {"datum": 398.7},
              "y": {"datum": 151.7, "type": "quantitative", "scale": {"domain": [0, 324], "nice": false, "zero": false, "reverse": true}, "axis": null},
              "y2": {"datum": 197.3}
            }
          },
          {
            "data": {"values": [{"t": "environment 𝑒 = 2:"}]},
            "mark": {"type": "text", "align": "left", "baseline": "alphabetic", "font": "Liberation Serif, DejaVu Serif", "fontSize": 28, "color": "#111"},
            "encoding": {
              "x": {"datum": 27.7, "type": "quantitative"},
              "y": {"datum": 33, "type": "quantitative"},
              "text": {"field": "t"}
            }
          },
          {
            "data": {"values": [
              {"t": "X²₂ = 0.3ε²₂", "x": 29, "b": 93},
              {"t": "X²₃ = 0.4ε²₃", "x": 29, "b": 136},
              {"t": "Y² = −0.7X²₂ + 0.6X²₃ + 0.1ε²ᵧ", "x": 29, "b": 182},
              {"t": "X²₄ = −0.5Y² + 0.5X²₃ + 0.1ε²₄", "x": 29, "b": 227},
              {"t": "ε²ᵧ, ε²₂, ε²₃, ε²₄", "x": 27.7, "b": 294},
              {"t": "∼ 𝒩(0, 1)", "x": 178, "b": 294}
            ]},
            "mark": {"type": "text", "align": "left", "baseline": "alphabetic", "font": "Liberation Serif", "fontStyle": "italic", "fontSize": 26, "color": "#111"},
            "encoding": {
              "x": {"field": "x", "type": "quantitative"},
              "y": {"field": "b", "type": "quantitative"},
              "text": {"field": "t"}
            }
          },
          {
            "data": {"values": [{"t": "iid"}]},
            "mark": {"type": "text", "align": "center", "baseline": "alphabetic", "font": "Liberation Serif", "fontStyle": "italic", "fontSize": 15, "color": "#111"},
            "encoding": {
              "x": {"datum": 187, "type": "quantitative"},
              "y": {"datum": 268, "type": "quantitative"},
              "text": {"field": "t"}
            }
          }
        ]
      }
    ]
  },
  {
    "spacing": 88,
    "resolve": {"scale": {"x": "independent", "y": "independent"}},
    "hconcat": [
      {
        "width": 436, "height": 344,
        "layer": [
          {
            "data": {"name": "p1b"},
            "mark": {"type": "circle", "size": 36, "opacity": 0.45, "color": "#4652dc"},
            "encoding": {
              "x": {"field": "x", "type": "quantitative", "scale": {"domain": [-1.403, 1.543], "nice": false, "zero": false}, "axis": {"values": [-1, -0.5, 0, 0.5, 1, 1.5], "format": ".1f", "title": "X₃", "labelPadding": 4, "titlePadding": 7}},
              "y": {"field": "y", "type": "quantitative", "scale": {"domain": [-1.058, 1.235], "nice": false, "zero": false}, "axis": {"values": [-1, -0.5, 0, 0.5, 1], "format": ".1f", "labelAngle": -90, "labelAlign": "center", "labelBaseline": "bottom", "title": "Y", "labelPadding": 4.5, "titlePadding": 9.5}}
            }
          },
          {
            "data": {"name": "p1o"},
            "mark": {"type": "circle", "size": 36, "opacity": 0.45, "color": "#e2793f"},
            "encoding": {
              "x": {"field": "x", "type": "quantitative"},
              "y": {"field": "y", "type": "quantitative"}
            }
          },
          {
            "data": {"values": [{"x": -1.293, "y": -0.171}, {"x": 1.414, "y": 0.189}]},
            "mark": {"type": "line", "color": "#3a45d1", "strokeWidth": 2.7},
            "encoding": {"x": {"field": "x", "type": "quantitative"}, "y": {"field": "y", "type": "quantitative"}}
          },
          {
            "data": {"values": [{"x": -1.293, "y": -0.793}, {"x": 1.414, "y": 0.871}]},
            "mark": {"type": "line", "color": "#e06b2d", "strokeWidth": 2.7},
            "encoding": {"x": {"field": "x", "type": "quantitative"}, "y": {"field": "y", "type": "quantitative"}}
          },
          {
            "data": {"values": [{"k": "yaxis"}]},
            "mark": {"type": "rule", "color": "#000", "strokeWidth": 1},
            "encoding": {"x": {"datum": -1.403, "type": "quantitative"}, "y": {"datum": -1, "type": "quantitative"}, "y2": {"datum": 1}}
          },
          {
            "data": {"values": [{"k": "xaxis"}]},
            "mark": {"type": "rule", "color": "#000", "strokeWidth": 1},
            "encoding": {"y": {"datum": -1.058, "type": "quantitative"}, "x": {"datum": -1, "type": "quantitative"}, "x2": {"datum": 1.5}}
          },
          {
            "data": {"values": [{"t": "data from environment e = 1"}]},
            "mark": {"type": "text", "align": "left", "baseline": "middle", "fontSize": 16, "color": "#4753d9"},
            "encoding": {"x": {"datum": -1.351, "type": "quantitative"}, "y": {"datum": 1.11, "type": "quantitative"}, "text": {"field": "t"}}
          },
          {
            "data": {"values": [{"t": "data from environment e = 2"}]},
            "mark": {"type": "text", "align": "left", "baseline": "middle", "fontSize": 16, "color": "#e07a44"},
            "encoding": {"x": {"datum": -1.351, "type": "quantitative"}, "y": {"datum": 0.929, "type": "quantitative"}, "text": {"field": "t"}}
          },
          {
            "data": {"values": [{"t": "S = { X₃ }"}]},
            "mark": {"type": "text", "align": "right", "baseline": "middle", "fontSize": 16, "color": "#000"},
            "encoding": {"x": {"datum": 1.41, "type": "quantitative"}, "y": {"datum": -0.9, "type": "quantitative"}, "text": {"field": "t"}}
          }
        ]
      },
      {
        "width": 421, "height": 344,
        "layer": [
          {
            "data": {"name": "p2b"},
            "mark": {"type": "circle", "size": 36, "opacity": 0.45, "color": "#4652dc"},
            "encoding": {
              "x": {"field": "x", "type": "quantitative", "scale": {"domain": [-0.786, 0.8285], "nice": false, "zero": false}, "axis": {"values": [-0.5, 0, 0.5], "format": ".1f", "title": "X₄", "labelPadding": 4, "titlePadding": 7}},
              "y": {"field": "y", "type": "quantitative", "scale": {"domain": [-1.058, 1.235], "nice": false, "zero": false}, "axis": {"values": [-1, -0.5, 0, 0.5, 1], "format": ".1f", "labelAngle": -90, "labelAlign": "center", "labelBaseline": "bottom", "title": "Y", "labelPadding": 4.5, "titlePadding": 9.5}}
            }
          },
          {
            "data": {"name": "p2o"},
            "mark": {"type": "circle", "size": 36, "opacity": 0.45, "color": "#e2793f"},
            "encoding": {
              "x": {"field": "x", "type": "quantitative"},
              "y": {"field": "y", "type": "quantitative"}
            }
          },
          {
            "data": {"values": [{"x": -0.73, "y": 0.069}, {"x": 0.762, "y": -0.071}]},
            "mark": {"type": "line", "color": "#3a45d1", "strokeWidth": 2.7},
            "encoding": {"x": {"field": "x", "type": "quantitative"}, "y": {"field": "y", "type": "quantitative"}}
          },
          {
            "data": {"values": [{"x": -0.73, "y": 0.233}, {"x": 0.762, "y": -0.244}]},
            "mark": {"type": "line", "color": "#e06b2d", "strokeWidth": 2.7},
            "encoding": {"x": {"field": "x", "type": "quantitative"}, "y": {"field": "y", "type": "quantitative"}}
          },
          {
            "data": {"values": [{"k": "yaxis"}]},
            "mark": {"type": "rule", "color": "#000", "strokeWidth": 1},
            "encoding": {"x": {"datum": -0.786, "type": "quantitative"}, "y": {"datum": -1, "type": "quantitative"}, "y2": {"datum": 1}}
          },
          {
            "data": {"values": [{"k": "xaxis"}]},
            "mark": {"type": "rule", "color": "#000", "strokeWidth": 1},
            "encoding": {"y": {"datum": -1.058, "type": "quantitative"}, "x": {"datum": -0.5, "type": "quantitative"}, "x2": {"datum": 0.5}}
          },
          {
            "data": {"values": [{"t": "data from environment e = 1"}]},
            "mark": {"type": "text", "align": "left", "baseline": "middle", "fontSize": 16, "color": "#4753d9"},
            "encoding": {"x": {"datum": -0.761, "type": "quantitative"}, "y": {"datum": 1.189, "type": "quantitative"}, "text": {"field": "t"}}
          },
          {
            "data": {"values": [{"t": "data from environment e = 2"}]},
            "mark": {"type": "text", "align": "left", "baseline": "middle", "fontSize": 16, "color": "#e07a44"},
            "encoding": {"x": {"datum": -0.761, "type": "quantitative"}, "y": {"datum": 1.017, "type": "quantitative"}, "text": {"field": "t"}}
          },
          {
            "data": {"values": [{"t": "S = { X₄ }"}]},
            "mark": {"type": "text", "align": "right", "baseline": "middle", "fontSize": 16, "color": "#000"},
            "encoding": {"x": {"datum": 0.817, "type": "quantitative"}, "y": {"datum": -0.957, "type": "quantitative"}, "text": {"field": "t"}}
          }
        ]
      }
    ]
  }
]
}
